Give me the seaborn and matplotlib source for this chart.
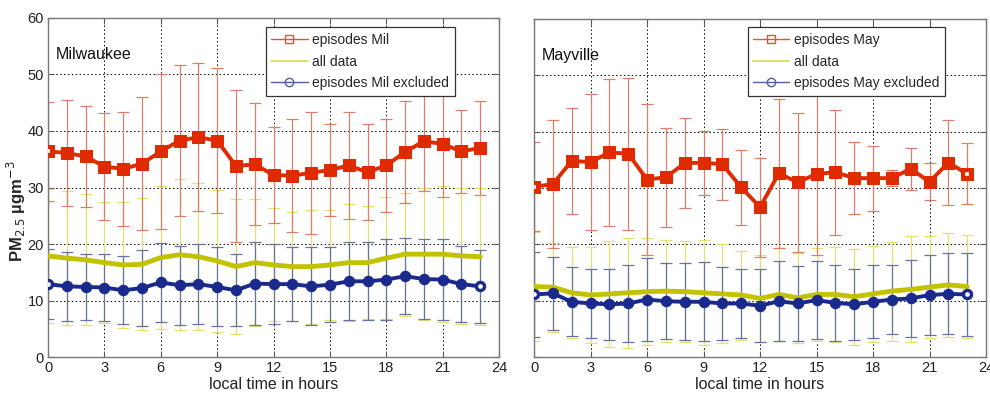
import numpy as np
import pandas as pd
import matplotlib
matplotlib.use("Agg")
import matplotlib.pyplot as plt
from matplotlib.lines import Line2D
import seaborn as sns

hours = list(range(24))

# Milwaukee: hourly means and standard deviations (PM2.5, ug/m3)
mil_ep_mean = [36.4, 36.1, 35.5, 33.7, 33.3, 34.2, 36.4, 38.3, 38.9, 38.3, 33.8, 34.1,
               32.2, 32.1, 32.6, 33.1, 33.9, 32.7, 33.9, 36.3, 38.2, 37.7, 36.4, 37.0]
mil_ep_sd = [8.8, 9.4, 9.0, 9.4, 10.1, 11.8, 13.7, 13.4, 13.1, 12.8, 13.4, 10.8,
             8.5, 10.0, 10.8, 8.2, 9.4, 8.5, 8.2, 9.0, 8.8, 9.4, 7.3, 8.3]
mil_all_mean = [17.9, 17.5, 17.2, 16.7, 16.3, 16.4, 17.6, 18.1, 17.75, 17.0, 16.0, 16.7,
                16.3, 16.0, 16.0, 16.3, 16.7, 16.7, 17.5, 18.2, 18.2, 18.2, 17.9, 17.75]
mil_all_sd = [11.9, 11.8, 11.6, 10.7, 11.1, 11.7, 12.7, 13.4, 13.05, 12.5, 12.0, 11.2,
              10.0, 9.7, 10.1, 9.7, 10.3, 10.0, 10.8, 10.9, 11.7, 12.0, 12.0, 12.15]
mil_ex_mean = [12.9, 12.5, 12.4, 12.3, 11.8, 12.2, 13.2, 12.7, 12.9, 12.4, 11.8, 13.0,
               12.9, 12.9, 12.5, 12.8, 13.4, 13.4, 13.7, 14.3, 13.8, 13.7, 12.9, 12.5]
mil_ex_sd = [6.2, 6.1, 5.8, 5.9, 6.0, 6.7, 7.0, 7.0, 7.1, 7.0, 6.4, 7.3,
             7.1, 6.5, 6.9, 6.6, 6.9, 6.9, 7.2, 6.7, 7.0, 7.2, 6.7, 6.4]

# Mayville: hourly means and standard deviations (PM2.5, ug/m3)
may_ep_mean = [30.2, 30.7, 34.8, 34.6, 36.3, 36.1, 31.5, 31.9, 34.4, 34.5, 34.2, 30.1,
               26.6, 32.6, 31.0, 32.5, 32.8, 31.75, 31.75, 31.75, 33.4, 31.1, 34.5, 32.5]
may_ep_sd = [7.9, 11.4, 9.4, 12.0, 13.1, 13.5, 13.4, 8.8, 8.0, 5.7, 6.3, 6.6,
             8.8, 13.2, 12.4, 14.4, 11.1, 6.45, 5.75, 1.45, 3.7, 3.3, 7.6, 5.4]
may_all_mean = [12.5, 12.4, 11.4, 11.0, 11.2, 11.4, 11.6, 11.7, 11.6, 11.4, 11.2, 11.0,
                10.4, 11.1, 10.5, 11.1, 11.1, 10.7, 11.2, 11.7, 12.0, 12.4, 12.8, 12.5]
may_all_sd = [9.6, 7.9, 8.1, 8.5, 9.4, 9.8, 9.5, 9.0, 9.0, 9.3, 8.8, 7.9,
              7.7, 8.3, 8.0, 8.3, 8.4, 8.5, 8.5, 8.8, 9.4, 9.1, 9.2, 9.1]
may_ex_mean = [11.1, 11.3, 9.8, 9.5, 9.35, 9.5, 10.2, 9.9, 9.8, 9.8, 9.5, 9.5,
               9.1, 9.9, 9.5, 10.1, 9.6, 9.35, 9.8, 10.2, 10.4, 11.0, 11.2, 11.1]
may_ex_sd = [7.5, 6.5, 6.1, 6.2, 6.25, 6.9, 7.3, 6.7, 6.8, 7.0, 6.4, 6.2,
             6.5, 7.1, 6.7, 6.9, 6.7, 6.25, 6.5, 6.2, 6.8, 7.1, 7.2, 7.3]

x_ticks = [0, 3, 6, 9, 12, 15, 18, 21, 24]
y_ticks = [0, 10, 20, 30, 40, 50, 60]

RED, RED_EB = "#E02A00", "#D8806C"
YEL, YEL_EB = "#C2C200", "#E6E070"
BLU, BLU_EB = "#1A2A8C", "#66739E"

sns.set_theme(style="white")
plt.rcParams["font.family"] = ["Liberation Sans", "DejaVu Sans"]

fig = plt.figure(figsize=(9.9, 3.93), dpi=100)
ax_l = fig.add_axes([0.0485, 0.0916, 0.4556, 0.8626])
ax_r = fig.add_axes([0.5394, 0.0916, 0.4566, 0.8601])


def panel(ax, site, short, ep_m, ep_s, all_m, all_s, ex_m, ex_s, hollow_red_end):
    df = pd.DataFrame({
        "hour": hours * 3,
        "pm": ep_m + all_m + ex_m,
        "sd": ep_s + all_s + ex_s,
        "series": ["ep"] * 24 + ["all"] * 24 + ["ex"] * 24,
    })
    styles = {"all": (YEL, YEL_EB), "ep": (RED, RED_EB), "ex": (BLU, BLU_EB)}
    # error bars (one standard deviation)
    for key in ["all", "ep", "ex"]:
        sub = df[df.series == key]
        ax.errorbar(sub.hour, sub.pm, yerr=sub.sd, fmt="none", ecolor=styles[key][1],
                    elinewidth=0.9, capsize=4.5, capthick=0.9, zorder=2)
    # hourly mean curves
    sns.lineplot(data=df[df.series == "all"], x="hour", y="pm", color=YEL, lw=3.5,
                 ax=ax, zorder=4, legend=False)
    sns.lineplot(data=df[df.series == "ep"], x="hour", y="pm", color=RED, lw=2.8,
                 marker="s", markersize=8, markeredgecolor=RED, ax=ax, zorder=5, legend=False)
    sns.lineplot(data=df[df.series == "ex"], x="hour", y="pm", color=BLU, lw=2.8,
                 marker="o", markersize=7.5, markeredgecolor=BLU, ax=ax, zorder=5, legend=False)
    # open markers at the ends of the day
    red_ends = [0, 23] if hollow_red_end else [0]
    ax.plot(red_ends, [ep_m[i] for i in red_ends], ls="none", marker="s", ms=5,
            mfc="white", mec=RED, mew=1.6, zorder=6)
    ax.plot([0, 23], [ex_m[0], ex_m[23]], ls="none", marker="o", ms=5,
            mfc="white", mec=BLU, mew=1.6, zorder=6)

    ax.set_xlim(0, 24)
    ax.set_ylim(0, 60)
    ax.set_xticks(x_ticks)
    ax.set_yticks(y_ticks)
    ax.grid(True, color="black", ls=(0, (1.5, 2.5)), lw=0.7)
    ax.set_axisbelow(True)
    for s in ax.spines.values():
        s.set_color("#777777")
        s.set_linewidth(1.0)
    ax.tick_params(direction="in", length=4, width=0.8, color="#555555",
                   labelsize=10.5, labelcolor="#222222", pad=3,
                   top=True, right=True, bottom=True, left=True)
    ax.set_xlabel("local time in hours", fontsize=11.5, color="#222222", labelpad=1)
    ax.set_ylabel("")
    ax.text(0.4, 53.5, site, fontsize=11.5, color="#111111", va="center", ha="left")

    handles = [
        Line2D([], [], color="#D05A40", lw=1.0, marker="s", ms=6, mfc="none", mec="#D05A40"),
        Line2D([], [], color="#D8D850", lw=1.2),
        Line2D([], [], color="#5060A0", lw=1.0, marker="o", ms=6, mfc="none", mec="#5060A0"),
    ]
    labels = [f"episodes {short}", "all data", f"episodes {short} excluded"]
    return handles, labels


def add_legend(ax, handles, labels, anchor):
    leg = ax.legend(handles, labels, loc="upper left", bbox_to_anchor=anchor, fontsize=10,
                    frameon=True, fancybox=False, edgecolor="#333333", framealpha=1,
                    handlelength=2.6, labelspacing=0.55, borderpad=0.4, handletextpad=0.35,
                    borderaxespad=0)
    leg.get_frame().set_linewidth(0.9)


h, l = panel(ax_l, "Milwaukee", "Mil", mil_ep_mean, mil_ep_sd, mil_all_mean, mil_all_sd,
             mil_ex_mean, mil_ex_sd, hollow_red_end=False)
add_legend(ax_l, h, l, (0.483, 0.972))
ax_l.set_ylabel("PM$_{2.5}$ µgm$^{-3}$", fontsize=12, fontweight="bold")
ax_l.yaxis.set_label_coords(-0.044, 0.43)

h, l = panel(ax_r, "Mayville", "May", may_ep_mean, may_ep_sd, may_all_mean, may_all_sd,
             may_ex_mean, may_ex_sd, hollow_red_end=True)
add_legend(ax_r, h, l, (0.473, 0.975))
ax_r.set_yticklabels([])

fig.savefig("out.png", dpi=100)
